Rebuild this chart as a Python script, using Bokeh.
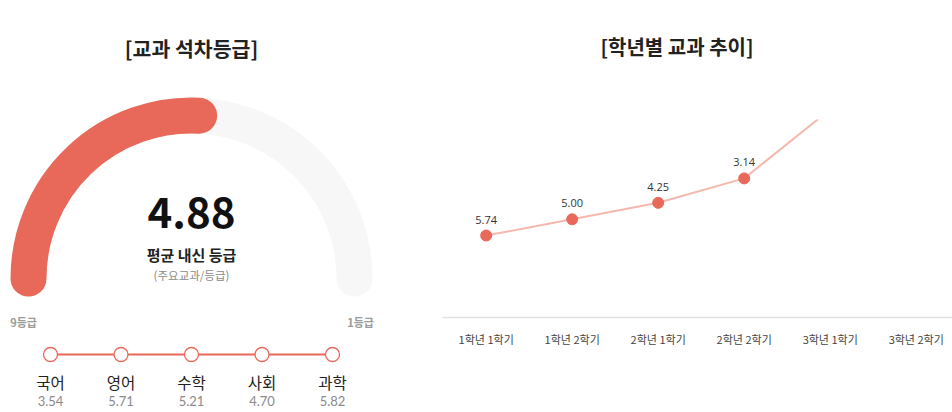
import math
import numpy as np
from bokeh.plotting import figure
from bokeh.layouts import row
from bokeh.models import Range1d, FixedTicker, Title
from bokeh.core.properties import value
from bokeh.embed import file_html
from bokeh.resources import INLINE

# ---------------- data ----------------
gauge_title = "[교과 석차등급]"
gauge_value = 4.88
gauge_caption = "평균 내신 등급"
gauge_subcaption = "(주요교과/등급)"
grade_worst, grade_best = 9, 1
grade_worst_label = "9등급"
grade_best_label = "1등급"

subjects = ["국어", "영어", "수학", "사회", "과학"]
subject_values = [3.54, 5.71, 5.21, 4.70, 5.82]

trend_title = "[학년별 교과 추이]"
semesters = ["1학년 1학기", "1학년 2학기", "2학년 1학기", "2학년 2학기", "3학년 1학기", "3학년 2학기"]
semester_values = [5.74, 5.00, 4.25, 3.14, 0.0, float("nan")]

KR = value("Noto Sans CJK KR")
LATO = value("Lato")
RED = "#E8685A"
H = 412

# ---------------- left panel: gauge ----------------
L = figure(width=442, height=H, x_range=Range1d(0, 442), y_range=Range1d(0, H),
           output_backend="svg", toolbar_location=None, min_border=0,
           x_axis_location=None, y_axis_location=None, frame_align=False)
L.grid.visible = False
L.outline_line_color = None

cx, cy, rad = 191, 134, 163
frac = (grade_worst - gauge_value) / (grade_worst - grade_best)
ang = math.pi - frac * math.pi
L.arc(x=[cx], y=[cy], radius=rad, start_angle=0, end_angle=math.pi,
      line_color="#F7F7F7", line_width=36, line_cap="round")
L.arc(x=[cx], y=[cy], radius=rad, start_angle=ang, end_angle=math.pi,
      line_color=RED, line_width=36, line_cap="round")

L.text(x=[191], y=[365], text=[gauge_title], text_font=KR, text_font_size="20.5px",
       text_font_style="bold", text_align="center", text_baseline="middle", text_color="#222222")
L.text(x=[cx], y=[200], text=[f"{gauge_value:.2f}"], text_font=KR, text_font_size="42px",
       text_font_style="bold", text_align="center", text_baseline="middle", text_color="#111111")
L.text(x=[cx], y=[158], text=[gauge_caption], text_font=KR, text_font_size="15px",
       text_font_style="bold", text_align="center", text_baseline="middle", text_color="#222222")
L.text(x=[cx], y=[138], text=[gauge_subcaption], text_font=KR, text_font_size="11.5px",
       text_align="center", text_baseline="middle", text_color="#8a8a8a")
L.text(x=[cx - 168, cx + 169], y=[91, 91], text=[grade_worst_label, grade_best_label],
       text_font=KR, text_font_size="11px", text_font_style="bold",
       text_align="center", text_baseline="middle", text_color="#9a9a9a")

n = len(subjects)
sx = [50 + i * (282 / (n - 1)) for i in range(n)]
sy = [58] * n
L.line(x=sx, y=sy, line_color=RED, line_width=2)
L.scatter(x=sx, y=sy, size=14, fill_color="white", line_color=RED, line_width=1.3)
L.text(x=sx, y=[31] * n, text=subjects, text_font=KR, text_font_size="15.5px",
       text_align="center", text_baseline="middle", text_color="#222222")
L.text(x=sx, y=[12] * n, text=[f"{v:.2f}" for v in subject_values], text_font=LATO,
       text_font_size="13px", text_align="center", text_baseline="middle", text_color="#8a8a8a")

# ---------------- right panel: trend ----------------
idx = list(range(len(semesters)))
R = figure(width=510, height=H, x_range=Range1d(-0.508, 5.422), y_range=Range1d(9.47, 0.46),
           output_backend="svg", toolbar_location=None, frame_align=False,
           min_border_left=0, min_border_right=0, min_border_top=119, min_border_bottom=95,
           y_axis_location=None)
R.grid.visible = False
R.outline_line_color = None
R.xaxis.ticker = FixedTicker(ticks=idx)
R.xaxis.major_label_overrides = {i: s for i, s in zip(idx, semesters)}
R.xaxis.axis_line_color = "#e2e2e2"
R.xaxis.axis_line_width = 1.5
R.xaxis.major_tick_line_color = None
R.xaxis.minor_tick_line_color = None
R.xaxis.major_label_text_font = "Noto Sans CJK KR"
R.xaxis.major_label_text_font_size = "11px"
R.xaxis.major_label_text_color = "#444444"
R.xaxis.major_label_standoff = 7

# spacer (closest to the frame) then the visible title above it
R.add_layout(Title(text=" ", text_font_size="20px", standoff=35), "above")
R.add_layout(Title(text=trend_title, align="left", offset=158, standoff=0,
                   text_font="Noto Sans CJK KR", text_font_size="20px",
                   text_font_style="bold", text_color="#222222"), "above")

R.line(x=idx, y=semester_values, line_color="#F5B8AD", line_width=2)
R.scatter(x=idx, y=semester_values, size=11, fill_color=RED, line_color=RED)
R.text(x=idx, y=semester_values,
       text=["" if np.isnan(v) else f"{v:.2f}" for v in semester_values],
       y_offset=-16, text_font=value("Open Sans"), text_font_size="11px",
       text_align="center", text_baseline="middle", text_color="#333333")

layout = row(L, R)
open("out.html", "w").write(file_html(layout, INLINE))
